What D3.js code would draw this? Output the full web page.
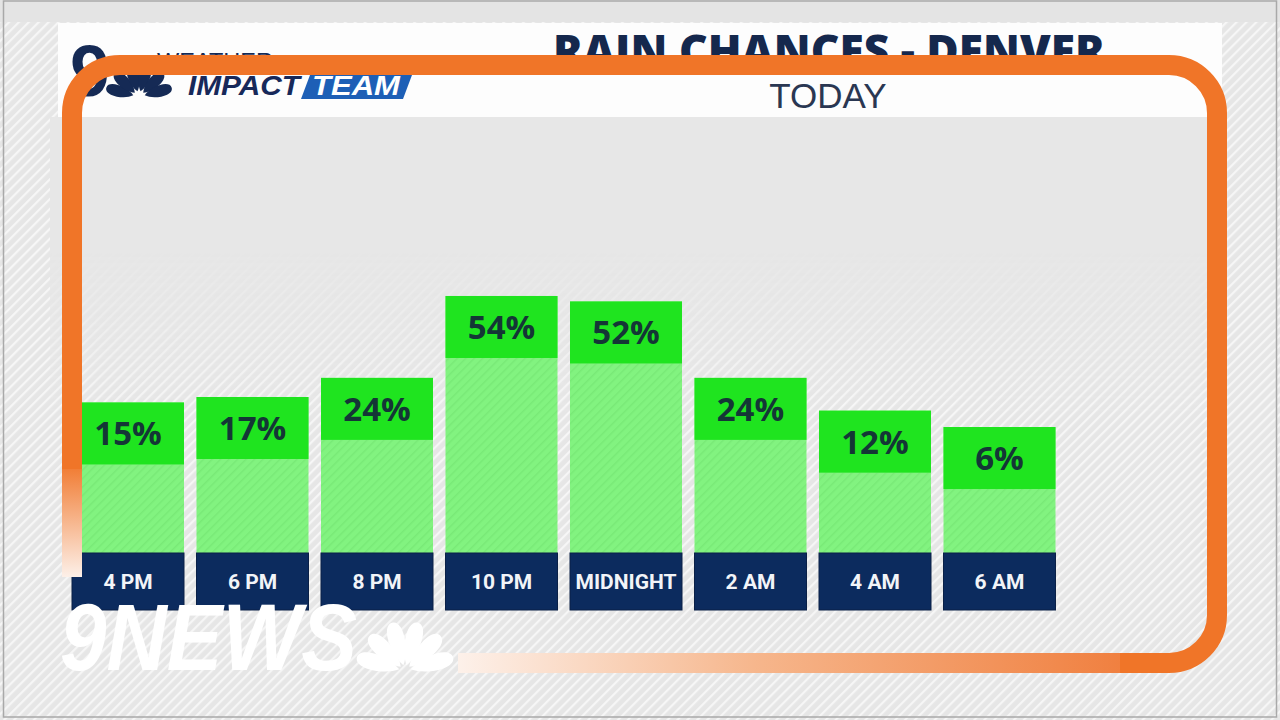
<!DOCTYPE html>
<html>
<head>
<meta charset="utf-8">
<script src="https://cdn.jsdelivr.net/npm/d3@7"></script>
<style>
  html, body { margin: 0; padding: 0; background: #e9e9e9; }
  svg { display: block; }
</style>
</head>
<body>
<svg id="chart" width="1280" height="720"></svg>
<script>
// ---- data ----
const categories = ["4 PM", "6 PM", "8 PM", "10 PM", "MIDNIGHT", "2 AM", "4 AM", "6 AM"];
const rainChance = [15, 17, 24, 54, 52, 24, 12, 6];
const titleText = "RAIN CHANCES - DENVER";
const subtitleText = "TODAY";

const data = categories.map((c, i) => ({ cat: c, value: rainChance[i] }));

const svg = d3.select("#chart");
const defs = svg.append("defs");

// hatch pattern for background
const hatch = defs.append("pattern").attr("id", "hatch")
  .attr("patternUnits", "userSpaceOnUse").attr("width", 7).attr("height", 7)
  .attr("patternTransform", "rotate(45)");
hatch.append("rect").attr("width", 7).attr("height", 7).attr("fill", "#e6e6e6");
hatch.append("rect").attr("width", 2.2).attr("height", 7).attr("fill", "#f6f6f6");

// hatch for bars
const bh = defs.append("pattern").attr("id", "barHatch")
  .attr("patternUnits", "userSpaceOnUse").attr("width", 6).attr("height", 6)
  .attr("patternTransform", "rotate(45)");
bh.append("rect").attr("width", 1.5).attr("height", 6).attr("fill", "rgba(40,150,40,0.10)");

// mask for hatch fade inside chart area
const mg = defs.append("linearGradient").attr("id", "fadeGrad")
  .attr("gradientUnits", "userSpaceOnUse").attr("x1", 0).attr("y1", 250).attr("x2", 0).attr("y2", 470);
mg.append("stop").attr("offset", 0).attr("stop-color", "#000");
mg.append("stop").attr("offset", 0.75).attr("stop-color", "#fff");
mg.append("stop").attr("offset", 1).attr("stop-color", "#fff");
const mask = defs.append("mask").attr("id", "fadeMask");
mask.append("rect").attr("x", 0).attr("y", 0).attr("width", 1280).attr("height", 720).attr("fill", "url(#fadeGrad)");

// orange gradients
const leftGrad = defs.append("linearGradient").attr("id", "leftGrad")
  .attr("gradientUnits", "userSpaceOnUse").attr("x1", 0).attr("y1", 460).attr("x2", 0).attr("y2", 578);
leftGrad.append("stop").attr("offset", 0).attr("stop-color", "#f07528");
leftGrad.append("stop").attr("offset", 1).attr("stop-color", "#fdf1ea");
const botGrad = defs.append("linearGradient").attr("id", "botGrad")
  .attr("gradientUnits", "userSpaceOnUse").attr("x1", 458).attr("y1", 0).attr("x2", 1120).attr("y2", 0);
botGrad.append("stop").attr("offset", 0).attr("stop-color", "#fdf1ea");
botGrad.append("stop").attr("offset", 0.45).attr("stop-color", "#f6b68c");
botGrad.append("stop").attr("offset", 1).attr("stop-color", "#f08040");

// ---- background ----
svg.append("rect").attr("width", 1280).attr("height", 720).attr("fill", "url(#hatch)");
svg.append("rect").attr("x", 50).attr("y", 117).attr("width", 1172).attr("height", 560)
  .attr("fill", "#e7e7e7");
svg.append("rect").attr("x", 50).attr("y", 117).attr("width", 1172).attr("height", 560)
  .attr("fill", "url(#hatch)").attr("mask", "url(#fadeMask)");
svg.append("rect").attr("x", 0).attr("y", 0).attr("width", 1280).attr("height", 22).attr("fill", "#e4e4e4");
svg.append("rect").attr("x", 3.5).attr("y", 1).attr("width", 1273).attr("height", 716)
  .attr("fill", "none").attr("stroke", "#a9a9a9").attr("stroke-width", 1.5);

// header panel
svg.append("rect").attr("x", 58).attr("y", 23).attr("width", 1164).attr("height", 94).attr("fill", "#fdfdfd");

// title
svg.append("text").attr("x", 829).attr("y", 67).attr("text-anchor", "middle")
  .attr("font-family", "Open Sans, Liberation Sans, sans-serif").attr("font-weight", 800)
  .attr("font-size", 44).attr("fill", "#15284d")
  .attr("textLength", 552).attr("lengthAdjust", "spacingAndGlyphs")
  .text(titleText);
svg.append("text").attr("x", 828).attr("y", 108).attr("text-anchor", "middle")
  .attr("font-family", "Liberation Sans, Arial, sans-serif").attr("font-weight", 400)
  .attr("font-size", 35).attr("fill", "#2a3752")
  .text(subtitleText);

// peacock helper (logo decoration)
function peacock(g, cx, cy, L, w, color) {
  const angles = [-74, -45, -15, 15, 45, 74];
  angles.forEach(a => {
    g.append("path")
      .attr("d", `M0,-6 C${-w},${-L * 0.4} ${-w * 1.2},${-L} 0,${-L} C${w * 1.2},${-L} ${w},${-L * 0.4} 0,-6 Z`)
      .attr("transform", `translate(${cx},${cy}) rotate(${a})`)
      .attr("fill", color);
  });
}

// top-left logo
const lg = svg.append("g");
lg.append("text").attr("x", 70).attr("y", 96).attr("font-family", "Liberation Sans, Arial, sans-serif")
  .attr("font-weight", 700).attr("font-size", 72).attr("fill", "#152a55").text("9");
peacock(lg, 139, 97, 34, 7, "#152a55");
lg.append("text").attr("x", 157).attr("y", 68).attr("font-family", "Liberation Sans, Arial, sans-serif")
  .attr("font-size", 22).attr("fill", "#152a55").attr("textLength", 116).attr("lengthAdjust", "spacingAndGlyphs")
  .text("WEATHER");
lg.append("text").attr("x", 188).attr("y", 95).attr("font-family", "Liberation Sans, Arial, sans-serif")
  .attr("font-weight", 700).attr("font-style", "italic").attr("font-size", 27).attr("fill", "#17295a")
  .attr("textLength", 112).attr("lengthAdjust", "spacingAndGlyphs").text("IMPACT");
lg.append("path").attr("d", "M310,75 L412,75 L403,99 L301,99 Z").attr("fill", "#1d5fb6");
lg.append("text").attr("x", 312).attr("y", 95).attr("font-family", "Liberation Sans, Arial, sans-serif")
  .attr("font-weight", 700).attr("font-style", "italic").attr("font-size", 27).attr("fill", "#ffffff")
  .attr("textLength", 88).attr("lengthAdjust", "spacingAndGlyphs").text("TEAM");

// ---- scales ----
const x = d3.scaleBand().domain(categories).range([72, 1055.5]).paddingInner(0.1004).paddingOuter(0);
const y = d3.scaleLinear().domain([0, 100]).range([443.4, 170.4]);
const baseY = 553, labelH = 57, headH = 62;

const bars = svg.append("g").selectAll("g").data(data).join("g");
bars.append("rect")
  .attr("x", d => x(d.cat)).attr("y", d => y(d.value))
  .attr("width", x.bandwidth()).attr("height", d => baseY - y(d.value))
  .attr("fill", "#82f380");
bars.append("rect")
  .attr("x", d => x(d.cat)).attr("y", d => y(d.value) + headH)
  .attr("width", x.bandwidth()).attr("height", d => baseY - y(d.value) - headH)
  .attr("fill", "url(#barHatch)");
bars.append("rect")
  .attr("x", d => x(d.cat)).attr("y", d => y(d.value))
  .attr("width", x.bandwidth()).attr("height", headH)
  .attr("fill", "#1fe41f");
bars.append("text")
  .attr("x", d => x(d.cat) + x.bandwidth() / 2).attr("y", d => y(d.value) + headH / 2 + 12)
  .attr("text-anchor", "middle")
  .attr("font-family", "Open Sans, Liberation Sans, sans-serif").attr("font-weight", 700)
  .attr("font-size", 33).attr("fill", "#143636")
  .text(d => d.value + "%");
bars.append("rect")
  .attr("x", d => x(d.cat)).attr("y", baseY)
  .attr("width", x.bandwidth()).attr("height", labelH)
  .attr("fill", "#0c2b5e").attr("stroke", "#0a2047").attr("stroke-width", 1);
bars.append("text")
  .attr("x", d => x(d.cat) + x.bandwidth() / 2).attr("y", baseY + 36)
  .attr("text-anchor", "middle")
  .attr("font-family", "Roboto, Liberation Sans, sans-serif").attr("font-weight", 700)
  .attr("font-size", 21).attr("fill", "#f2f4f8")
  .text(d => d.cat);

// ---- orange frame ----
const fr = svg.append("g").attr("fill", "none").attr("stroke-width", 20);
fr.append("path")
  .attr("d", "M72,470 V113 A48,48 0 0 1 120,65 H1169 A48,48 0 0 1 1217,113 V615 A48,48 0 0 1 1169,663 H1119")
  .attr("stroke", "#f07528");
fr.append("path").attr("d", "M72,577 V469").attr("stroke", "url(#leftGrad)");
fr.append("path").attr("d", "M458,663 H1120").attr("stroke", "url(#botGrad)");

// ---- 9NEWS logo ----
const nl = svg.append("g");
nl.append("text").attr("x", 60).attr("y", 670)
  .attr("font-family", "Liberation Sans, Arial, sans-serif").attr("font-weight", 700).attr("font-style", "italic")
  .attr("font-size", 94).attr("fill", "#ffffff")
  .attr("textLength", 297).attr("lengthAdjust", "spacingAndGlyphs")
  .text("9NEWS");
peacock(nl, 405, 671, 50, 10, "#ffffff");
</script>
</body>
</html>
